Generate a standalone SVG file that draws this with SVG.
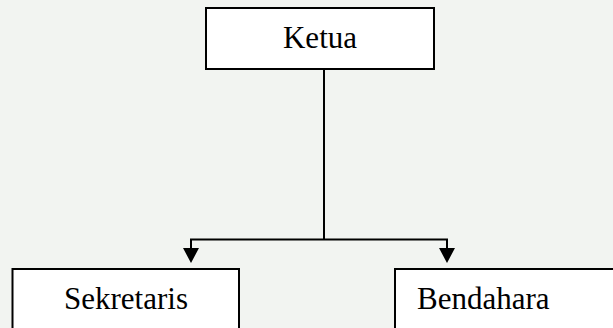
<svg xmlns="http://www.w3.org/2000/svg" width="613" height="328" viewBox="0 0 613 328">
  <style>
    .box { fill: #ffffff; stroke: #000000; stroke-width: 2; }
    .label { font-family: "Liberation Serif", "Times New Roman", serif; font-size: 31px; fill: #000000; }
    .wire { fill: none; stroke: #000000; stroke-width: 2; }
    .head { fill: #000000; }
  </style>
  <rect x="0" y="0" width="613" height="328" fill="#f2f4f1"/>

  <!-- connectors: trunk from the chair down, split to both members -->
  <g id="connectors">
    <path class="wire" d="M324,69 V239.5"/>
    <path class="wire" d="M191,248 V239.5 H447 V248"/>
    <path class="head" d="M183,248 L199,248 L191,263 Z"/>
    <path class="head" d="M439,248 L455,248 L447,263 Z"/>
  </g>

  <g id="ketua">
    <rect class="box" x="206" y="8" width="228" height="61"/>
    <text class="label" x="320" y="48" text-anchor="middle">Ketua</text>
  </g>

  <g id="sekretaris">
    <rect class="box" x="12.5" y="269" width="226.5" height="80"/>
    <text class="label" x="126" y="309" text-anchor="middle">Sekretaris</text>
  </g>

  <g id="bendahara">
    <rect class="box" x="395" y="269" width="240" height="80"/>
    <text class="label" x="417" y="309">Bendahara</text>
  </g>
</svg>
